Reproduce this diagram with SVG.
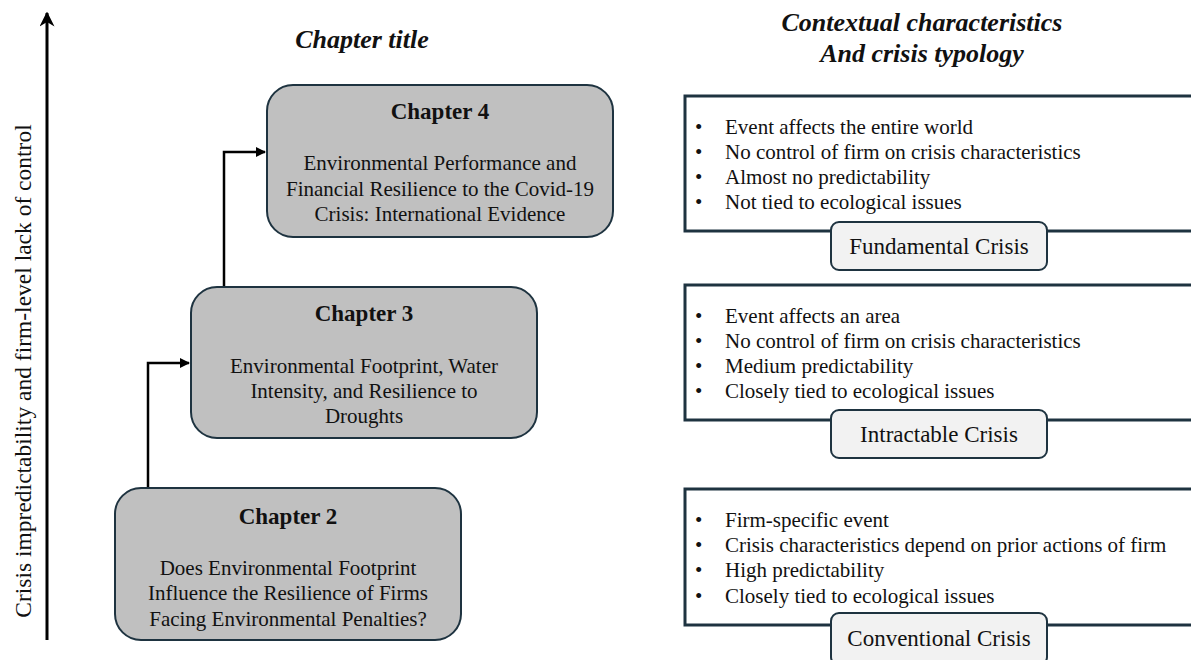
<svg xmlns="http://www.w3.org/2000/svg" width="1191" height="660" viewBox="0 0 1191 660">
<defs>
<style>
.t{font-family:"Liberation Serif","Times New Roman",serif;fill:#111;}
.body{font-size:21px;text-anchor:middle;}
.head{font-size:23px;font-weight:bold;text-anchor:middle;}
.title{font-size:26px;font-weight:bold;font-style:italic;text-anchor:middle;}
.bul{font-size:21px;}
.lab{font-size:23px;text-anchor:middle;}
.chap{fill:#c0c0c0;stroke:#1e3340;stroke-width:2;}
.ctx{fill:#fff;stroke:#1e3340;stroke-width:3;}
.tag{fill:#f2f2f2;stroke:#1e3340;stroke-width:2;}
.conn{fill:none;stroke:#000;stroke-width:2.5;}
</style>
<marker id="ah" viewBox="0 0 10 10" refX="9" refY="5" markerWidth="4" markerHeight="4" orient="auto" markerUnits="strokeWidth">
<path d="M0,0 L10,5 L0,10 z" fill="#000"/>
</marker>
<marker id="big" viewBox="0 0 10 10" refX="9" refY="5" markerWidth="5" markerHeight="5" orient="auto" markerUnits="strokeWidth">
<path d="M0,0 L10,5 L0,10 L3,5 z" fill="#000"/>
</marker>
</defs>
<rect width="1191" height="660" fill="#fff"/>

<g id="axis">
<line x1="47" y1="640" x2="47" y2="13" stroke="#000" stroke-width="3" marker-end="url(#big)"/>
<text class="t" font-size="23.5" text-anchor="middle" transform="translate(31,371) rotate(-90)">Crisis impredictability and firm-level lack of control</text>
</g>

<g id="headers">
<text class="t title" x="362" y="48">Chapter title</text>
<text class="t title" x="922" y="31">Contextual characteristics</text>
<text class="t title" x="922" y="62">And crisis typology</text>
</g>

<g id="connectors">
<path class="conn" d="M148,488 V363 H189" marker-end="url(#ah)"/>
<path class="conn" d="M224,287 V152 H265" marker-end="url(#ah)"/>
</g>

<g id="chapter4">
<rect class="chap" x="267" y="85" width="346" height="152" rx="26"/>
<text class="t head" x="440" y="119">Chapter 4</text>
<text class="t body" x="440" y="170">Environmental Performance and</text>
<text class="t body" x="440" y="196">Financial Resilience to the Covid-19</text>
<text class="t body" x="440" y="221">Crisis: International Evidence</text>
</g>

<g id="chapter3">
<rect class="chap" x="191" y="287" width="346" height="151" rx="26"/>
<text class="t head" x="364" y="321">Chapter 3</text>
<text class="t body" x="364" y="373">Environmental Footprint, Water</text>
<text class="t body" x="364" y="398">Intensity, and Resilience to</text>
<text class="t body" x="364" y="423">Droughts</text>
</g>

<g id="chapter2">
<rect class="chap" x="115" y="488" width="346" height="152" rx="26"/>
<text class="t head" x="288" y="524">Chapter 2</text>
<text class="t body" x="288" y="575">Does Environmental Footprint</text>
<text class="t body" x="288" y="600">Influence the Resilience of Firms</text>
<text class="t body" x="288" y="626">Facing Environmental Penalties?</text>
</g>

<g id="fundamental">
<rect class="ctx" x="685" y="96" width="520" height="135"/>
<text class="t bul" x="695" y="134">•<tspan x="725">Event affects the entire world</tspan></text>
<text class="t bul" x="695" y="159">•<tspan x="725">No control of firm on crisis characteristics</tspan></text>
<text class="t bul" x="695" y="184">•<tspan x="725">Almost no predictability</tspan></text>
<text class="t bul" x="695" y="209">•<tspan x="725">Not tied to ecological issues</tspan></text>
<rect class="tag" x="831" y="222" width="216" height="48" rx="8"/>
<text class="t lab" x="939" y="254">Fundamental Crisis</text>
</g>

<g id="intractable">
<rect class="ctx" x="685" y="285" width="520" height="135"/>
<text class="t bul" x="695" y="323">•<tspan x="725">Event affects an area</tspan></text>
<text class="t bul" x="695" y="348">•<tspan x="725">No control of firm on crisis characteristics</tspan></text>
<text class="t bul" x="695" y="373">•<tspan x="725">Medium predictability</tspan></text>
<text class="t bul" x="695" y="398">•<tspan x="725">Closely tied to ecological issues</tspan></text>
<rect class="tag" x="831" y="410" width="216" height="48" rx="8"/>
<text class="t lab" x="939" y="442">Intractable Crisis</text>
</g>

<g id="conventional">
<rect class="ctx" x="685" y="489" width="520" height="136"/>
<text class="t bul" x="695" y="527">•<tspan x="725">Firm-specific event</tspan></text>
<text class="t bul" x="695" y="552">•<tspan x="725">Crisis characteristics depend on prior actions of firm</tspan></text>
<text class="t bul" x="695" y="577">•<tspan x="725">High predictability</tspan></text>
<text class="t bul" x="695" y="603">•<tspan x="725">Closely tied to ecological issues</tspan></text>
<rect class="tag" x="831" y="613" width="216" height="52" rx="8"/>
<text class="t lab" x="939" y="646">Conventional Crisis</text>
</g>
</svg>
